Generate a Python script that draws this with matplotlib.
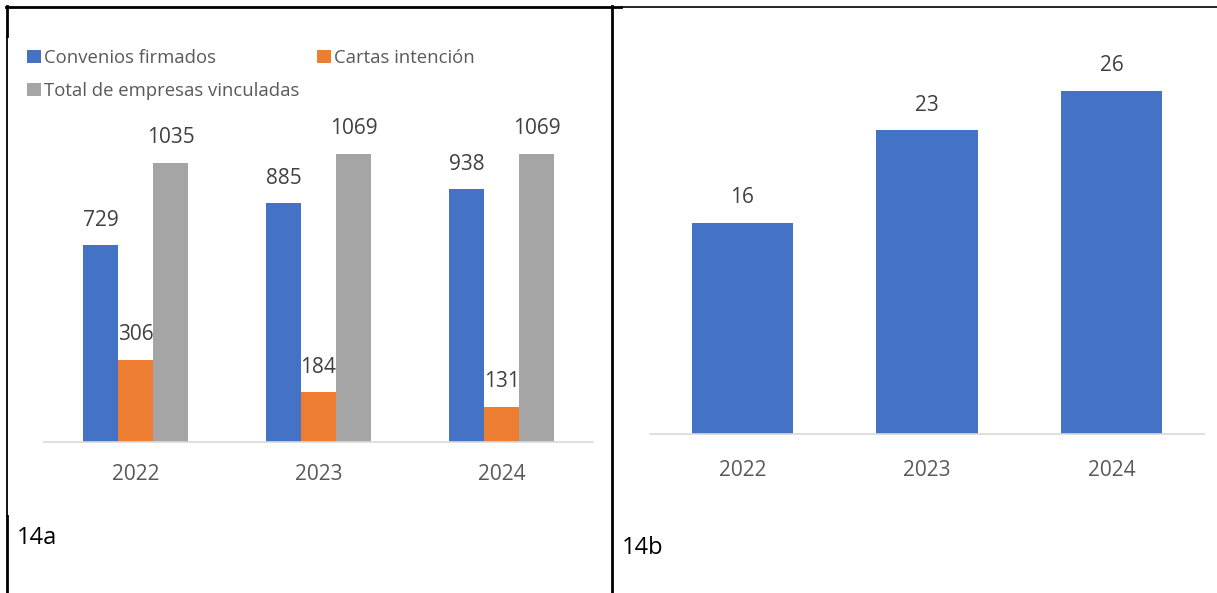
import matplotlib

matplotlib.use("Agg")
import matplotlib.pyplot as plt
from matplotlib.lines import Line2D
import numpy as np

# ---- data ----
years = ["2022", "2023", "2024"]
convenios = [729, 885, 938]
cartas = [306, 184, 131]
total_empresas = [1035, 1069, 1069]
series_names = ["Convenios firmados", "Cartas intención",
                "Total de empresas vinculadas"]
right_values = [16, 23, 26]

BLUE, ORANGE, GREY = "#4472C4", "#ED7D31", "#A5A5A5"
W, H = 1217, 593

plt.rcParams["font.family"] = ["Open Sans", "DejaVu Sans"]


def px(x):
    return x / W


def py(y):
    return 1 - y / H


fig = plt.figure(figsize=(W / 100, H / 100), dpi=100)


def style(ax, pad):
    for s in ("top", "right", "left"):
        ax.spines[s].set_visible(False)
    ax.spines["bottom"].set_color("#D9D9D9")
    ax.spines["bottom"].set_linewidth(1.2)
    ax.set_yticks([])
    ax.tick_params(axis="x", length=0, pad=pad, labelsize=15, labelcolor="#595959")
    ax.set_xlim(-0.5, 2.5)


def label(ax, rects, vals):
    for r, v in zip(rects, vals):
        ax.annotate(str(v), (r.get_x() + r.get_width() / 2, r.get_height()),
                    xytext=(0, 18), textcoords="offset points",
                    ha="center", va="center", fontsize=15, color="#404040")


# ---- 14a: grouped bars ----
ax1 = fig.add_axes([px(44), py(442), px(593) - px(44), (442 - 118.5) / H])
x = np.arange(len(years))
bw = 0.191
b1 = ax1.bar(x - bw, convenios, bw, color=BLUE, label=series_names[0])
b2 = ax1.bar(x, cartas, bw, color=ORANGE, label=series_names[1])
b3 = ax1.bar(x + bw, total_empresas, bw, color=GREY, label=series_names[2])
for rects, vals in ((b1, convenios), (b2, cartas), (b3, total_empresas)):
    label(ax1, rects, vals)
ax1.set_ylim(0, 1200)
ax1.set_xticks(x, years)
style(ax1, 16)
# row-wise legend order like the original (matplotlib fills columns first)
ax1.legend([b1, b3, b2], [series_names[0], series_names[2], series_names[1]],
           ncol=2, loc="upper left", bbox_to_anchor=(px(27), py(49)),
           bbox_transform=fig.transFigure, frameon=False, fontsize=13.3,
           handlelength=0.75, handleheight=0.75, handletextpad=0.15,
           labelspacing=0.8, columnspacing=1.0, borderpad=0,
           borderaxespad=0, labelcolor="#595959")

# ---- 14b: single series ----
ax2 = fig.add_axes([px(650), py(434), px(1204) - px(650), 396 / H])
r = ax2.bar(x, right_values, 0.55, color=BLUE)
label(ax2, r, right_values)
ax2.set_ylim(0, 30)
ax2.set_xticks(x, years)
style(ax2, 19)

fig.text(px(17), py(538), "14a", fontsize=17, va="center", ha="left")
fig.text(px(622), py(548), "14b", fontsize=17, va="center", ha="left")

# ---- table borders ----
def line(xs, ys, lw):
    fig.add_artist(Line2D([px(v) for v in xs], [py(v) for v in ys],
                          color="black", lw=lw, transform=fig.transFigure))


line([6, 621], [7, 7], 2.0)
line([621, W], [6.5, 6.5], 1.2)
line([612, 612], [6, H], 2.0)
line([7, 7], [6, 36], 2.0)
line([7, 7], [36, 516], 1.3)
line([7, 7], [516, H], 2.0)

fig.savefig("out.png", dpi=100)
